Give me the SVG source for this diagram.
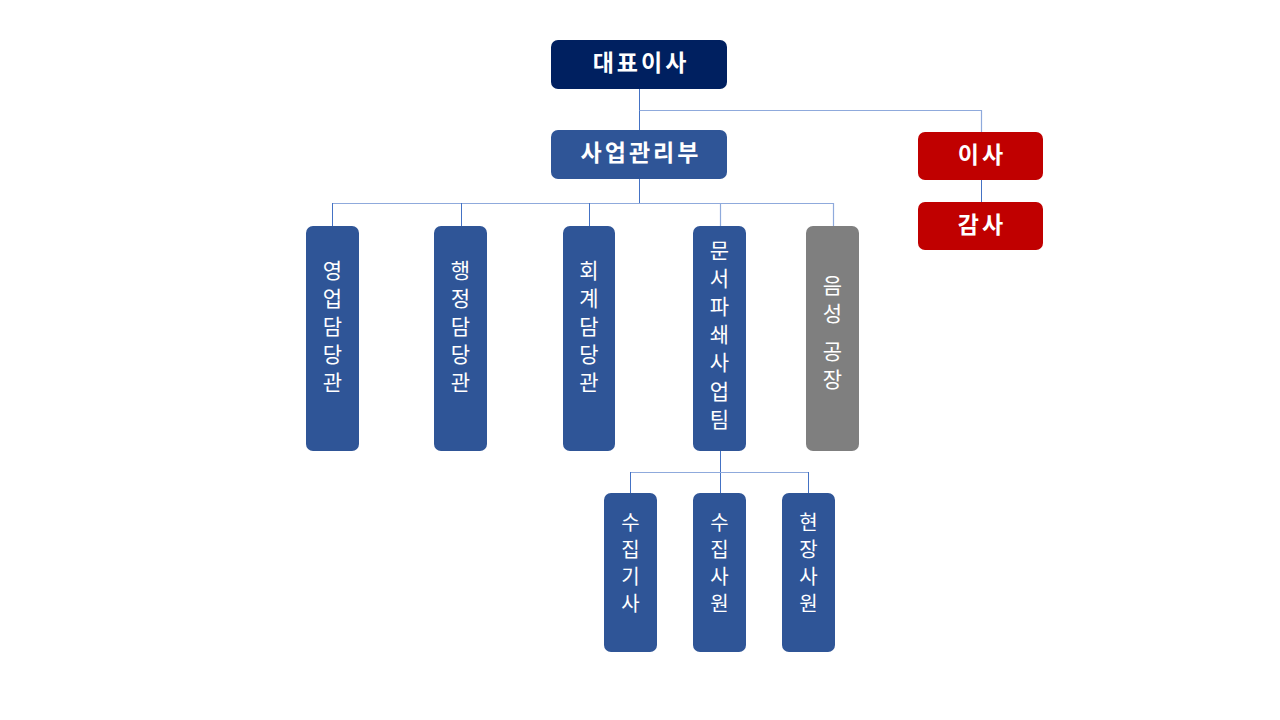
<svg xmlns="http://www.w3.org/2000/svg" width="1280" height="720" viewBox="0 0 1280 720">
<style>
.t{font-family:"Noto Sans CJK KR","Noto Sans",sans-serif;fill:#fff;text-anchor:middle}
.h{font-size:23px;font-weight:bold;letter-spacing:3px}
.v{font-size:21px}
.s{font-size:20px}
.ln{stroke:#4472C4;stroke-width:1;fill:none}
.lh{stroke:#8FAADC;stroke-width:1.2;fill:none}
.blue{fill:#2F5597}
.navy{fill:#002060}
.red{fill:#C00000}
.gray{fill:#7F7F7F}
</style>
<rect width="1280" height="720" fill="#fff"/>
<g id="connectors">
<path class="ln" d="M639.5 89V130"/>
<path class="lh" d="M639.5 110.5H981.5V132"/>
<path class="ln" d="M981.5 180V202"/>
<path class="ln" d="M639.5 179V203"/>
<path class="lh" d="M332.5 203.5H833.5"/>
<path class="ln" d="M332.5 203V226M461.5 203V226M589.5 203V226"/>
<path class="lh" d="M720.5 203V226M833.5 203V226"/>
<path class="ln" d="M720.5 451V493"/>
<path class="lh" d="M630.5 472.5H808.5"/>
<path class="ln" d="M630.5 472V493M808.5 472V493"/>
</g>
<g id="ceo"><rect class="navy" x="551" y="40" width="176" height="49" rx="7"/><text class="t h" x="641" y="71">대표이사</text></g>
<g id="bizmgmt"><rect class="blue" x="551" y="130" width="176" height="49" rx="7"/><text class="t h" x="641" y="161">사업관리부</text></g>
<g id="director"><rect class="red" x="918" y="132" width="125" height="48" rx="7"/><text class="t h" x="982" y="163">이사</text></g>
<g id="auditor"><rect class="red" x="918" y="202" width="125" height="48" rx="7"/><text class="t h" x="982" y="233">감사</text></g>
<g id="sales"><rect class="blue" x="306" y="226" width="53" height="225" rx="7"/>
<text class="t v" x="332.5"><tspan x="332.5" y="278">영</tspan><tspan x="332.5" y="306">업</tspan><tspan x="332.5" y="334">담</tspan><tspan x="332.5" y="362">당</tspan><tspan x="332.5" y="390">관</tspan></text></g>
<g id="admin"><rect class="blue" x="434" y="226" width="53" height="225" rx="7"/>
<text class="t v" x="460.5"><tspan x="460.5" y="278">행</tspan><tspan x="460.5" y="306">정</tspan><tspan x="460.5" y="334">담</tspan><tspan x="460.5" y="362">당</tspan><tspan x="460.5" y="390">관</tspan></text></g>
<g id="account"><rect class="blue" x="563" y="226" width="52" height="225" rx="7"/>
<text class="t v" x="589"><tspan x="589" y="278">회</tspan><tspan x="589" y="306">계</tspan><tspan x="589" y="334">담</tspan><tspan x="589" y="362">당</tspan><tspan x="589" y="390">관</tspan></text></g>
<g id="shred"><rect class="blue" x="693" y="226" width="53" height="225" rx="7"/>
<text class="t v" x="719.5"><tspan x="719.5" y="258">문</tspan><tspan x="719.5" y="286">서</tspan><tspan x="719.5" y="314">파</tspan><tspan x="719.5" y="342">쇄</tspan><tspan x="719.5" y="370">사</tspan><tspan x="719.5" y="399">업</tspan><tspan x="719.5" y="427">팀</tspan></text></g>
<g id="factory"><rect class="gray" x="806" y="226" width="53" height="225" rx="7"/>
<text class="t v" x="832.5"><tspan x="832.5" y="293">음</tspan><tspan x="832.5" y="321">성</tspan><tspan x="832.5" y="359">공</tspan><tspan x="832.5" y="387">장</tspan></text></g>
<g id="driver"><rect class="blue" x="604" y="493" width="53" height="159" rx="7"/>
<text class="t s" x="630.5"><tspan x="630.5" y="530">수</tspan><tspan x="630.5" y="557">집</tspan><tspan x="630.5" y="584">기</tspan><tspan x="630.5" y="611">사</tspan></text></g>
<g id="collector"><rect class="blue" x="693" y="493" width="53" height="159" rx="7"/>
<text class="t s" x="719.5"><tspan x="719.5" y="530">수</tspan><tspan x="719.5" y="557">집</tspan><tspan x="719.5" y="584">사</tspan><tspan x="719.5" y="611">원</tspan></text></g>
<g id="field"><rect class="blue" x="782" y="493" width="53" height="159" rx="7"/>
<text class="t s" x="808.5"><tspan x="808.5" y="530">현</tspan><tspan x="808.5" y="557">장</tspan><tspan x="808.5" y="584">사</tspan><tspan x="808.5" y="611">원</tspan></text></g>
</svg>
